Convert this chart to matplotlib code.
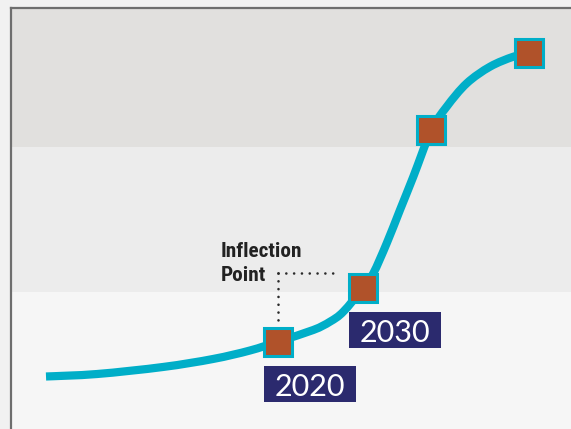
import matplotlib
matplotlib.use("Agg")
import matplotlib.pyplot as plt
from matplotlib.patches import Rectangle, PathPatch
from matplotlib.path import Path

# S-curve traced along the growth path (x: progress, y: adoption level)
curve_x = [6.25, 15.36, 27.14, 36.07, 42.68, 47.73, 53.98, 56.96, 59.34, 62.91,
           64.70, 67.09, 69.46, 71.84, 75.05, 77.80, 81.38, 85.54, 89.70, 92.45]
curve_y = [12.47, 13.06, 14.73, 16.63, 18.65, 20.78, 23.52, 25.49, 27.86, 33.56,
           36.98, 44.11, 52.02, 59.93, 70.95, 76.56, 82.11, 86.06, 88.43, 89.24]

# milestone markers along the curve
marker_x = [47.73, 62.91, 75.05, 92.45]
marker_y = [20.78, 33.56, 70.95, 89.24]
marker_labels = ["2020", "2030", "", ""]

# background bands (low / mid / high)
band_edges = [0, 32.5, 67.0, 100]
band_colors = ["#f6f6f6", "#ececec", "#e1e0de"]

# inflection guide
guide_y = 36.98
guide_x_end = 58.75
guide_y_end = 25.72

LINE = "#00aec8"
FILL = "#b0522a"
NAVY = "#2b2a6e"


def smooth_path(xs, ys):
    # Catmull-Rom style spline through the points, as cubic Bezier segments
    pts = list(zip(xs, ys))
    n = len(pts)
    verts = [pts[0]]
    codes = [Path.MOVETO]
    for i in range(n - 1):
        p0 = pts[max(i - 1, 0)]
        p1 = pts[i]
        p2 = pts[i + 1]
        p3 = pts[min(i + 2, n - 1)]
        c1 = (p1[0] + (p2[0] - p0[0]) / 6, p1[1] + (p2[1] - p0[1]) / 6)
        c2 = (p2[0] - (p3[0] - p1[0]) / 6, p2[1] - (p3[1] - p1[1]) / 6)
        verts += [c1, c2, p2]
        codes += [Path.CURVE4] * 3
    return Path(verts, codes)


W, H = 571, 429
fig = plt.figure(figsize=(W / 100, H / 100), dpi=100, facecolor="#f1f1f1")
ax = fig.add_axes([11 / W, 0, 560 / W, 421 / H])
ax.set_xlim(0, 100)
ax.set_ylim(0, 100)
ax.set_xticks([])
ax.set_yticks([])
for side in ["right", "bottom"]:
    ax.spines[side].set_visible(False)
for side in ["left", "top"]:
    ax.spines[side].set_color("#6e6e6e")
    ax.spines[side].set_linewidth(1.6)

for lo, hi, c in zip(band_edges[:-1], band_edges[1:], band_colors):
    ax.axhspan(lo, hi, color=c, lw=0, zorder=0)

# dotted inflection guide
dot = dict(color="#2a2a2a", lw=1.9, linestyle=(0, (0.01, 2.95)),
           dash_capstyle="round", zorder=2)
ax.plot([marker_x[0], guide_x_end], [guide_y, guide_y], **dot)
ax.plot([marker_x[0], marker_x[0]], [guide_y, guide_y_end], **dot)

bold = dict(family=["Roboto Condensed", "Roboto"], fontweight="bold",
            fontsize=15.3, color="#222222", ha="left", va="baseline")
ax.text(37.5, (429 - 256.7) / 4.21, "Inflection", **bold)
ax.text(37.5, (429 - 280.7) / 4.21, "Point", **bold)

ax.add_patch(PathPatch(smooth_path(curve_x, curve_y), fc="none", ec=LINE,
                       lw=5.9, capstyle="butt", joinstyle="round", zorder=3))
ax.plot(marker_x, marker_y, ls="none", marker="s", ms=20.2, mfc=FILL,
        mec=LINE, mew=2.2, zorder=4)

# year tags below the first two markers
box_w, box_h = 16.4, 8.55
for mx, my, lab in zip(marker_x, marker_y, marker_labels):
    if not lab:
        continue
    bx = mx - 2.55
    by = my - 5.82 - box_h
    ax.add_patch(Rectangle((bx, by), box_w, box_h, fc=NAVY, ec="none", zorder=5))
    ax.text(bx + box_w / 2, by + box_h / 2, lab, color="white", fontsize=22,
            family="Lato", ha="center", va="center_baseline", zorder=6)

fig.savefig("out.png", dpi=100, facecolor=fig.get_facecolor())
